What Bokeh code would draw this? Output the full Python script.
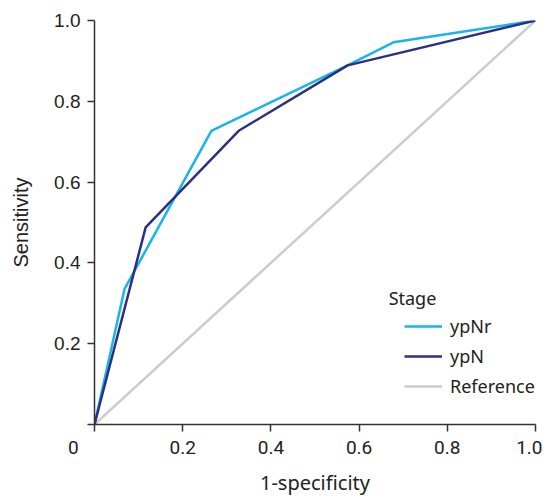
from bokeh.plotting import figure
from bokeh.models import Range1d, Legend, LegendItem, Label, FixedTicker
from bokeh.embed import file_html
from bokeh.resources import INLINE

# data
ypnr_x = [0.0, 0.068, 0.265, 0.574, 0.678, 1.0]
ypnr_y = [0.0, 0.335, 0.727, 0.889, 0.946, 1.0]
ypn_x = [0.0, 0.116, 0.327, 0.574, 1.0]
ypn_y = [0.0, 0.488, 0.727, 0.889, 1.0]
ref_x = [0.0, 1.0]
ref_y = [0.0, 1.0]
ticks = [0.0, 0.2, 0.4, 0.6, 0.8, 1.0]
x_tick_labels = {0.0: "0" + "\u00a0" * 9, 0.2: "0.2", 0.4: "0.4", 0.6: "0.6", 0.8: "0.8", 1.0: "1.0"}
y_tick_labels = {0.0: "", 0.2: "0.2", 0.4: "0.4", 0.6: "0.6", 0.8: "0.8", 1.0: "1.0"}

LIGHT = "#19b5e8"
NAVY = "#2d3080"
GRAY = "#cccccc"
TXT = "#222222"

p = figure(width=542, height=499, output_backend="svg", toolbar_location=None,
           x_range=Range1d(0, 1), y_range=Range1d(0, 1),
           min_border_left=94, min_border_right=7, min_border_top=20, min_border_bottom=75)
p.outline_line_color = None
p.grid.visible = False
p.background_fill_color = "white"

r_ref = p.line(ref_x, ref_y, line_color=GRAY, line_width=2.5)
r_nr = p.line(ypnr_x, ypnr_y, line_color=LIGHT, line_width=2.5)
r_n = p.line(ypn_x, ypn_y, line_color=NAVY, line_width=2.5)

for ax in (p.xaxis[0], p.yaxis[0]):
    ax.ticker = FixedTicker(ticks=ticks)
    ax.minor_tick_line_color = None
    ax.major_tick_in = 0
    ax.major_tick_out = 7
    ax.axis_line_color = "#333333"
    ax.major_tick_line_color = "#333333"
    ax.axis_line_width = 1.5
    ax.major_tick_line_width = 1.5
    ax.major_label_text_font_size = "19px"
    ax.major_label_text_color = TXT
    ax.axis_label_text_font_size = "20px"
    ax.axis_label_text_font_style = "normal"
    ax.axis_label_text_color = TXT

p.xaxis.major_label_overrides = x_tick_labels
p.yaxis.major_label_overrides = y_tick_labels
p.xaxis.major_label_text_font = "Roboto"
p.yaxis.major_label_text_font = "Liberation Sans"
p.xaxis.axis_label_text_font = "Noto Sans"
p.yaxis.axis_label_text_font = "Liberation Sans"
p.xaxis.axis_label = "1-specificity"
p.yaxis.axis_label = "Sensitivity"
p.xaxis.major_label_standoff = 4
p.yaxis.major_label_standoff = 7
p.xaxis.axis_label_standoff = 7
p.yaxis.axis_label_standoff = 19

p.add_layout(Label(x=0.667, y=0.312, text="Stage", text_align="left", text_baseline="middle",
                   text_font="Noto Sans", text_font_size="18px", text_color=TXT))

legend = Legend(items=[LegendItem(label="ypNr", renderers=[r_nr]),
                       LegendItem(label="ypN", renderers=[r_n]),
                       LegendItem(label="Reference", renderers=[r_ref])],
                location=(310, 26), padding=0, margin=0, spacing=6,
                glyph_width=38, glyph_height=20, label_standoff=8,
                label_text_font="Noto Sans", label_text_font_size="18px",
                label_text_color=TXT, border_line_color=None, background_fill_alpha=0)
p.add_layout(legend)

open("out.html", "w").write(file_html(p, INLINE))
